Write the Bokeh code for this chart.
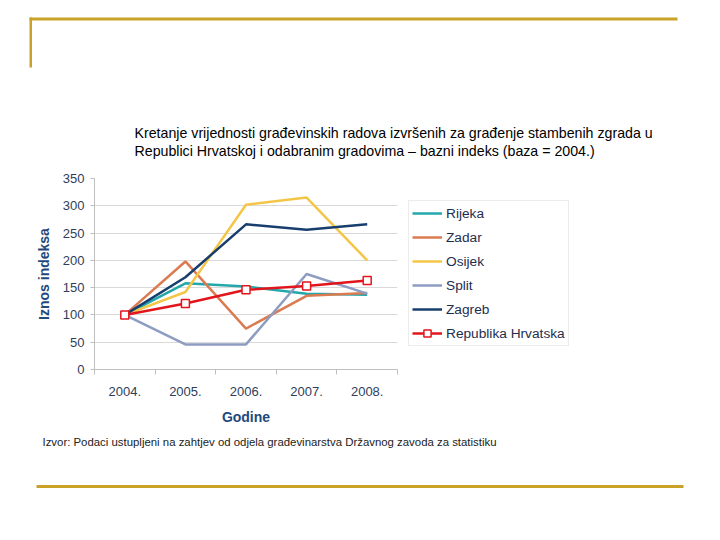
from bokeh.plotting import figure
from bokeh.layouts import column, row
from bokeh.models import Range1d, FixedTicker, Legend, LegendItem
from bokeh.core.properties import value
from bokeh.embed import file_html
from bokeh.resources import INLINE

# ---------------- data ----------------
years = ["2004.", "2005.", "2006.", "2007.", "2008."]
rijeka = [100, 158, 152, 139, 137]
zadar = [100, 198, 75, 135, 140]
osijek = [100, 142, 302, 315, 200]
split = [100, 46, 46, 175, 139]
zagreb = [100, 169, 266, 256, 266]
hrvatska = [100, 121, 146, 153, 163]
y_ticks = [0, 50, 100, 150, 200, 250, 300, 350]

series_names = ["Rijeka", "Zadar", "Osijek", "Split", "Zagreb"]
series_colors = ["#23A7AB", "#DB7B52", "#F4C647", "#8D9CC0", "#183E6D"]
total_name = "Republika Hrvatska"
total_color = "#E3151C"

title_lines = [
    "Kretanje vrijednosti građevinskih radova izvršenih za građenje stambenih zgrada u",
    "Republici Hrvatskoj i odabranim gradovima – bazni indeks (baza = 2004.)",
]
source_text = "Izvor: Podaci ustupljeni na zahtjev od odjela građevinarstva Državnog zavoda za statistiku"

FONT = "Liberation Sans"
TICK_COLOR = "#2E3E5C"
AXIS_TITLE_COLOR = "#1F497D"
GOLD = "#C9A227"

W = 704
TOP_H = 170          # page rows 0..170
MID_H = 262          # page rows 170..432
BOT_H = 92           # page rows 432..524
CHART_W = 400        # page cols 0..400 hold the chart, 400..704 the legend
FL, FR, FT, FB = 94, 397, 178, 369   # chart frame in page pixels


def blank(w, h, x0, y0):
    f = figure(width=w, height=h, output_backend="svg", toolbar_location=None,
               x_range=Range1d(x0, x0 + w), y_range=Range1d(y0 + h, y0),
               min_border=0, background_fill_color="white",
               border_fill_color="white", frame_align=False)
    f.axis.visible = False
    f.grid.visible = False
    f.outline_line_color = None
    return f


# ---------- top: slide frame + title ----------
top = blank(W, TOP_H, 0, 0)
top.quad(left=[29, 29], right=[677, 31.5], top=[17, 17], bottom=[20, 67],
         fill_color=GOLD, line_color=None)
top.text(x=[134, 134], y=[132, 150], text=title_lines,
         text_font=value(FONT), text_font_size="14.2px", text_color="black",
         text_baseline="middle", text_align="left")

# ---------- middle left: chart ----------
p = figure(width=CHART_W, height=MID_H, output_backend="svg", toolbar_location=None,
           x_range=Range1d(0, len(years)), y_range=Range1d(0, 350),
           min_border_left=FL, min_border_right=CHART_W - FR,
           min_border_top=FT - TOP_H, min_border_bottom=TOP_H + MID_H - FB,
           background_fill_color="white", border_fill_color="white",
           frame_align=False)
p.outline_line_color = None

xs = [i + 0.5 for i in range(len(years))]

p.xaxis.ticker = FixedTicker(ticks=xs, minor_ticks=list(range(len(years) + 1)))
p.xaxis.major_label_overrides = {x: lab for x, lab in zip(xs, years)}
p.xaxis.major_tick_line_color = None
p.xaxis.minor_tick_line_color = "#BFBFBF"
p.xaxis.minor_tick_out = 5
p.xaxis.minor_tick_in = 0
p.xaxis.axis_line_color = "#BFBFBF"
p.xaxis.major_label_standoff = 11
p.xaxis.axis_label = "Godine"
p.xaxis.axis_label_standoff = 10

p.yaxis.ticker = FixedTicker(ticks=y_ticks)
p.yaxis.axis_line_color = "#BFBFBF"
p.yaxis.major_tick_line_color = "#BFBFBF"
p.yaxis.major_tick_out = 4
p.yaxis.major_tick_in = 0
p.yaxis.minor_tick_line_color = None
p.yaxis.major_label_standoff = 6
p.yaxis.axis_label = "Iznos indeksa"
p.yaxis.axis_label_standoff = 8

for ax in (p.xaxis, p.yaxis):
    ax.major_label_text_font = FONT
    ax.major_label_text_font_size = "13px"
    ax.major_label_text_color = TICK_COLOR
    ax.axis_label_text_font = FONT
    ax.axis_label_text_font_size = "14px"
    ax.axis_label_text_font_style = "bold"
    ax.axis_label_text_color = AXIS_TITLE_COLOR

p.xgrid.grid_line_color = None
p.ygrid.grid_line_color = "#D9D9D9"

all_values = [rijeka, zadar, osijek, split, zagreb]
for vals, col in zip(all_values, series_colors):
    p.line(xs, vals, line_color=col, line_width=2.5)
p.line(xs, hrvatska, line_color=total_color, line_width=2.5)
p.scatter(xs, hrvatska, marker="square", size=8, fill_color="white",
          line_color=total_color, line_width=1.5)

# ---------- middle right: legend ----------
# the same series are drawn here too, but they fall outside this panel's
# ranges, so only their legend swatches are visible
lg = blank(W - CHART_W, MID_H, CHART_W, TOP_H)
items = []
for name, vals, col in zip(series_names, all_values, series_colors):
    r = lg.line(xs, vals, line_color=col, line_width=2.5)
    items.append(LegendItem(label=name, renderers=[r]))
rl = lg.line(xs, hrvatska, line_color=total_color, line_width=2.5)
rs = lg.scatter(xs, hrvatska, marker="square", size=8, fill_color="white",
                line_color=total_color, line_width=1.5)
items.append(LegendItem(label=total_name, renderers=[rl, rs]))

legend = Legend(items=items, location=(408 - CHART_W, TOP_H + MID_H - 346),
                padding=3, spacing=6, glyph_height=18, label_height=18,
                glyph_width=30, label_standoff=4, margin=0,
                label_text_font=FONT, label_text_font_size="13.7px",
                label_text_color="#1F2D4D",
                border_line_color="#D9D9D9", border_line_width=1,
                background_fill_color="white", background_fill_alpha=1)
lg.add_layout(legend, "center")

# ---------- bottom: source + slide line ----------
y0 = TOP_H + MID_H
bot = blank(W, BOT_H, 0, y0)
bot.text(x=[42], y=[441], text=[source_text], text_font=value(FONT),
         text_font_size="11.4px", text_color="#222222",
         text_baseline="middle", text_align="left")
bot.quad(left=[36], right=[683], top=[484.5], bottom=[487.5],
         fill_color=GOLD, line_color=None)

layout = column(top, row(p, lg, spacing=0), bot, spacing=0)
open("out.html", "w").write(file_html(layout, INLINE))
